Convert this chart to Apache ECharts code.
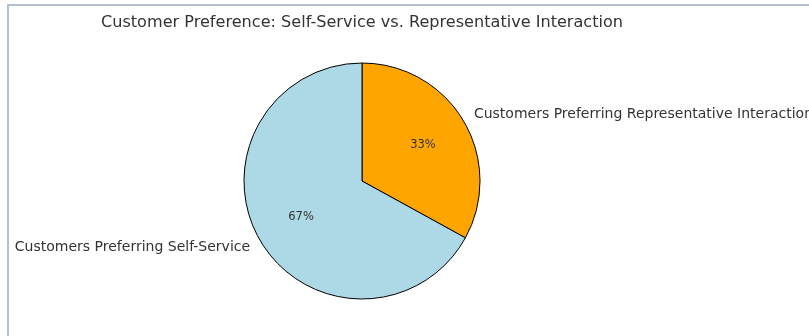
<!DOCTYPE html>
<html>
<head>
<meta charset="utf-8">
<script src="https://cdn.jsdelivr.net/npm/echarts@6/dist/echarts.min.js"></script>
<style>
  html, body { margin: 0; padding: 0; background: #fff; }
  #chart { width: 809px; height: 336px; }
</style>
</head>
<body>
<div id="chart"></div>
<script>
// 数据
var titleText = "Customer Preference: Self-Service vs. Representative Interaction";
var categories = ["Customers Preferring Representative Interaction", "Customers Preferring Self-Service"];
var shares = [33, 67];
var sliceColors = ["#ffa500", "#add8e6"];

var myChart = echarts.init(document.getElementById("chart"));

var pieData = categories.map(function (name, i) {
  return { name: name, value: shares[i], itemStyle: { color: sliceColors[i] } };
});

var R = 118;
var center = [362, 181];

var option = {
  animation: false,
  title: {
    text: titleText,
    left: 357,
    textAlign: "center",
    top: 10,
    textStyle: {
      fontFamily: "DejaVu Sans",
      fontWeight: "normal",
      fontSize: 16.1,
      color: "#333"
    }
  },
  graphic: [{
    type: "polyline",
    silent: true,
    shape: { points: [[8, 340], [8, 5], [815, 5]] },
    style: { stroke: "#b4bfd2", lineWidth: 2, fill: null }
  }],
  series: [{
      // 外部名称标签
      type: "pie",
      center: center,
      radius: [0, R],
      startAngle: 90,
      clockwise: true,
      avoidLabelOverlap: false,
      silent: true,
      itemStyle: { borderColor: "#000", borderWidth: 1 },
      label: {
        show: true,
        position: "outside",
        formatter: "{b}",
        fontFamily: "DejaVu Sans",
        fontSize: 14,
        color: "#333",
        distanceToLabelLine: 0,
        edgeDistance: -600
      },
      labelLine: { show: false, length: 12, length2: 0 },
      data: pieData
    },
    {
      // 百分比标签
      type: "pie",
      center: center,
      radius: [17.6, R],
      startAngle: 90,
      clockwise: true,
      silent: true,
      percentPrecision: 0,
      itemStyle: { color: "transparent", borderWidth: 0 },
      label: {
        show: true,
        position: "inner",
        formatter: "{d}%",
        fontFamily: "DejaVu Sans",
        fontSize: 11.5,
        color: "#333"
      },
      labelLine: { show: false },
      data: categories.map(function (name, i) {
        return { name: name, value: shares[i] };
      })
    }
  ]
};

myChart.setOption(option);
window.addEventListener("resize", function () {
  myChart.resize();
});
</script>
</body>
</html>
